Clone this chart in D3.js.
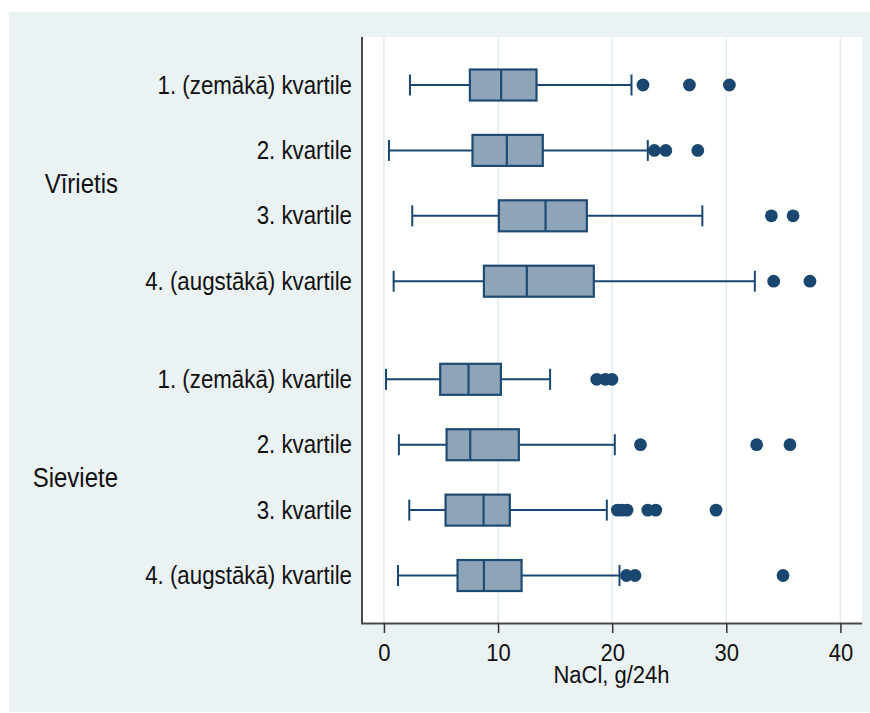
<!DOCTYPE html>
<html>
<head>
<meta charset="utf-8">
<script src="https://cdn.jsdelivr.net/npm/d3@7"></script>
<style>
html,body{margin:0;padding:0;background:#fff;}
svg{display:block;}
text{font-family:"Liberation Sans",Arial,Helvetica,sans-serif;fill:#111;}
</style>
</head>
<body>
<svg id="chart" width="870" height="713"></svg>
<script>
// ---- data ----
const groups = ["Vīrietis", "Sieviete"];
const categories = ["1. (zemākā) kvartile", "2. kvartile", "3. kvartile", "4. (augstākā) kvartile"];
// per row: group index, category index
const rowGroup = [0,0,0,0,1,1,1,1];
const rowCat   = [0,1,2,3,0,1,2,3];
const whiskerLow  = [2.28, 0.44, 2.48, 0.85, 0.18, 1.31, 2.22, 1.23];
const q1          = [7.53, 7.76, 10.07, 8.76, 4.93, 5.49, 5.40, 6.45];
const median      = [10.27, 10.77, 14.16, 12.52, 7.41, 7.56, 8.73, 8.76];
const q3          = [13.37, 13.92, 17.78, 18.39, 10.25, 11.82, 11.03, 12.06];
const whiskerHigh = [21.69, 23.12, 27.9, 32.5, 14.56, 20.23, 19.53, 20.64];
const outliers = [
  [22.7, 26.77, 30.27],
  [23.7, 24.7, 27.5],
  [33.95, 35.85],
  [34.15, 37.33],
  [18.65, 19.4, 19.98],
  [22.48, 32.66, 35.58],
  [20.45, 20.85, 21.3, 23.12, 23.82, 29.1],
  [21.25, 22.0, 34.97]
];
const xTicks = [0, 10, 20, 30, 40];
const xTitle = "NaCl, g/24h";

// ---- layout ----
const svg = d3.select("#chart");
const W = 870, H = 713;
const plot = {left: 361, right: 862, top: 37, bottom: 623};
const navy = "#1a476f";
const boxFill = "#8ea5b9";
const stretch = 1.12; // vertical text stretch to mimic reference glyph shape

svg.append("rect").attr("x", 9).attr("y", 12).attr("width", W - 9).attr("height", H - 13).attr("fill", "#eaf2f3");
svg.append("rect").attr("x", plot.left).attr("y", plot.top)
  .attr("width", plot.right - plot.left).attr("height", plot.bottom - plot.top).attr("fill", "#fff");

const x = d3.scaleLinear().domain([-2.01, 41.89]).range([plot.left, plot.right]);
// row positions: groups separated by a half-row gap
const rowPos = rowGroup.map((g, i) => i + g * 0.5);
const y = d3.scaleLinear().domain([-0.734, 8.226]).range([plot.top, plot.bottom]);

// gridlines
svg.append("g").selectAll("line").data(xTicks).join("line")
  .attr("x1", d => x(d)).attr("x2", d => x(d))
  .attr("y1", plot.top).attr("y2", plot.bottom)
  .attr("stroke", "#e3ecef").attr("stroke-width", 1.5);

const boxH = 31, capH = 21;
const rows = d3.range(8).map(i => ({
  i, y: y(rowPos[i]), lo: whiskerLow[i], q1: q1[i], med: median[i], q3: q3[i], hi: whiskerHigh[i], out: outliers[i]
}));

const g = svg.append("g");
rows.forEach(r => {
  const gr = g.append("g");
  gr.append("line").attr("x1", x(r.lo)).attr("x2", x(r.q1)).attr("y1", r.y).attr("y2", r.y)
    .attr("stroke", navy).attr("stroke-width", 2);
  gr.append("line").attr("x1", x(r.q3)).attr("x2", x(r.hi)).attr("y1", r.y).attr("y2", r.y)
    .attr("stroke", navy).attr("stroke-width", 2);
  [r.lo, r.hi].forEach(v => gr.append("line").attr("x1", x(v)).attr("x2", x(v))
    .attr("y1", r.y - capH / 2).attr("y2", r.y + capH / 2).attr("stroke", navy).attr("stroke-width", 2));
  gr.append("rect").attr("x", x(r.q1)).attr("y", r.y - boxH / 2)
    .attr("width", x(r.q3) - x(r.q1)).attr("height", boxH)
    .attr("fill", boxFill).attr("stroke", "#1f4a72").attr("stroke-width", 2.2);
  gr.append("line").attr("x1", x(r.med)).attr("x2", x(r.med))
    .attr("y1", r.y - boxH / 2).attr("y2", r.y + boxH / 2).attr("stroke", "#1f4a72").attr("stroke-width", 2.2);
  gr.selectAll("circle").data(r.out).join("circle")
    .attr("cx", d => x(d)).attr("cy", r.y).attr("r", 6.4).attr("fill", navy);
});

function label(px, py, txt, size, anchor) {
  svg.append("text")
    .attr("transform", `translate(${px},${py}) scale(1,${stretch})`)
    .attr("text-anchor", anchor).attr("font-size", size).text(txt);
}

// category labels
rows.forEach(r => label(352, r.y + 8.5, categories[rowCat[r.i]], 22.3, "end"));

// group labels
groups.forEach((name, gi) => {
  const idx = rowGroup.map((gg, i) => gg === gi ? i : -1).filter(i => i >= 0);
  const mid = (y(rowPos[idx[1]]) + y(rowPos[idx[2]])) / 2;
  label(118, mid + 10, name, 24, "end");
});

// axes
svg.append("line").attr("x1", plot.left + 1).attr("x2", plot.left + 1)
  .attr("y1", plot.top).attr("y2", plot.bottom + 1).attr("stroke", "#4a4a4a").attr("stroke-width", 2);
const xAxis = d3.axisBottom(x).tickValues(xTicks).tickSize(10).tickFormat(d3.format("d"));
const ax = svg.append("g").attr("transform", `translate(0,${plot.bottom})`).call(xAxis);
ax.select(".domain").attr("d", `M${plot.left},0.5H${plot.right}`).attr("stroke", "#4a4a4a").attr("stroke-width", 2);
ax.selectAll(".tick line").attr("stroke", "#333").attr("stroke-width", 1.5);
ax.selectAll(".tick text")
  .attr("y", null).attr("dy", null)
  .attr("transform", `translate(0,38) scale(1,${stretch})`)
  .attr("font-size", 22).attr("font-family", "Liberation Sans, Arial, sans-serif").attr("fill", "#111");

label((plot.left + plot.right) / 2, 683, xTitle, 22, "middle");
</script>
</body>
</html>
